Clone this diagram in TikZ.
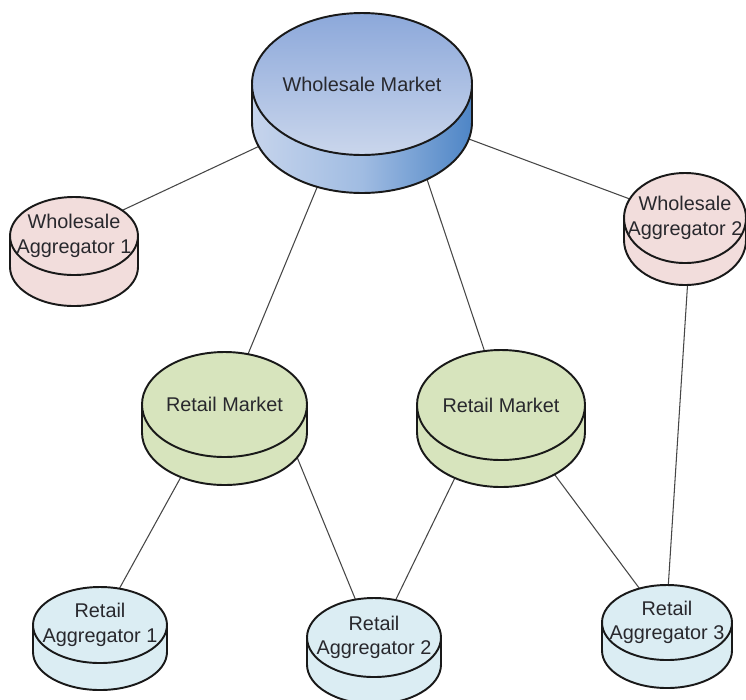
\documentclass[tikz,border=0pt]{standalone}
\usepackage{fontspec}
\setmainfont{Liberation Sans}
\usetikzlibrary{shapes.geometric,backgrounds}

\definecolor{rimgray}{RGB}{25,25,25}
\definecolor{linkgray}{RGB}{70,70,70}
\definecolor{labelgray}{RGB}{40,40,45}
\definecolor{wmtopA}{RGB}{140,168,218}
\definecolor{wmtopB}{RGB}{202,214,236}
\definecolor{wmsideA}{RGB}{198,212,236}
\definecolor{wmsideM}{RGB}{160,188,226}
\definecolor{wmsideB}{RGB}{78,133,198}
\definecolor{pinkfill}{RGB}{242,221,220}
\definecolor{greenfill}{RGB}{215,228,189}
\definecolor{cyanfill}{RGB}{219,237,243}

\tikzset{
  rim/.style={draw=rimgray, line width=1.1pt, line join=round},
  link/.style={draw=linkgray, line width=0.6pt},
  disc/.style={ellipse, inner sep=-15pt, outer sep=0pt, align=center,
    text=labelgray, font=\fontsize{11.3}{14}\selectfont},
  sized/.style 2 args={minimum width=#1*0.2mm, minimum height=#2*0.2mm},
  blue top/.style={top color=wmtopA, bottom color=wmtopB},
  blue side/.style={left color=wmsideA, right color=wmsideB, middle color=wmsideM},
  pink top/.style={fill=pinkfill},
  pink side/.style={fill=pinkfill},
  green top/.style={fill=greenfill},
  green side/.style={fill=greenfill},
  cyan top/.style={fill=cyanfill},
  cyan side/.style={fill=cyanfill}
}

% disc body: colour, centre of top face, x radius, y radius, side height
\newcommand{\discbody}[5]{%
  \path[#1 side] (#2) ++(-#3,0) -- ++(0,-#5)
    arc[start angle=180, end angle=360, x radius=#3, y radius=#4] -- ++(0,#5)
    arc[start angle=0, end angle=-180, x radius=#3, y radius=#4] -- cycle;
  \path[#1 top] (#2) ellipse[x radius=#3, y radius=#4];
  \path[rim] (#2) ++(-#3,0)
    arc[start angle=180, end angle=0, x radius=#3, y radius=#4] -- ++(0,-#5)
    arc[start angle=0, end angle=-180, x radius=#3, y radius=#4] -- cycle
    (#2) ++(-#3,0) arc[start angle=180, end angle=360, x radius=#3, y radius=#4];
}

\begin{document}
\begin{tikzpicture}[x=0.2mm, y=0.2mm]
\useasboundingbox (0,0) rectangle (746,-699);
\clip (0,0) rectangle (746,-699);

% markets
\discbody{blue}{362,-84}{110}{71}{38}
\node[disc, sized={220}{142}] (wm) at (362,-84) {Wholesale Market};

\discbody{green}{224.5,-404.5}{82.5}{52.5}{28}
\node[disc, sized={165}{105}] (rm1) at (224.5,-404.5) {Retail Market};

\discbody{green}{501,-405}{84}{55}{27}
\node[disc, sized={168}{110}] (rm2) at (501,-405) {Retail Market};

% aggregators
\discbody{pink}{74,-236}{64}{39}{31}
\node[disc, sized={128}{78}] (wa1) at (74,-236) {Wholesale\\Aggregator 1};

\discbody{pink}{685,-218}{61}{45}{22}
\node[disc, sized={122}{90}] (wa2) at (685,-218) {Wholesale\\Aggregator 2};

\discbody{cyan}{100,-625}{67}{38}{27}
\node[disc, sized={134}{76}] (ra1) at (100,-625) {Retail\\Aggregator 1};

\discbody{cyan}{374,-637.5}{67}{39.5}{27}
\node[disc, sized={134}{79}] (ra2) at (374,-637.5) {Retail\\Aggregator 2};

\discbody{cyan}{667,-622.5}{65}{37.5}{28}
\node[disc, sized={130}{75}] (ra3) at (667,-622.5) {Retail\\Aggregator 3};

% links, behind the discs
\begin{scope}[on background layer]
  \fill[white] (0,0) rectangle (746,-699);
  \draw[link] (wm.213) -- (wa1.28);
  \draw[link] (wm.246) -- (rm1.65);
  \draw[link] (wm.311) -- (rm2.107);
  \draw[link] (wm.331) -- (wa2.161);
  \draw[link] (wa2.275) -- (ra3.88);
  \draw[link] (rm1.238) -- (ra1.62);
  \draw[link] (rm1.333) -- (ra2.116);
  \draw[link] (rm2.235) -- (ra2.60);
  \draw[link] (rm2.308) -- (ra3.129);
\end{scope}
\end{tikzpicture}
\end{document}
